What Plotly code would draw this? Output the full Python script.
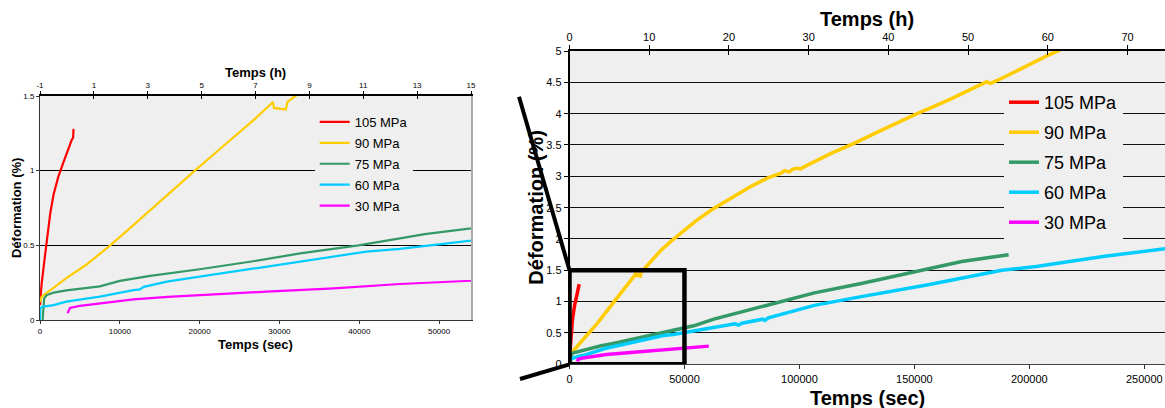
import plotly.graph_objects as go

W, H = 1165, 408

# ---------------- data (time in s, strain in %) ----------------
series_names = ["105 MPa", "90 MPa", "75 MPa", "60 MPa", "30 MPa"]
series_colors = ["#ff0000", "#ffcc00", "#339966", "#00ccff", "#ff00ff"]

t_105 = [0, 200, 600, 1000, 1300, 1700, 2300, 2900, 3500, 4000, 4150, 4200]
d_105 = [0.10, 0.24, 0.42, 0.58, 0.72, 0.84, 0.96, 1.05, 1.14, 1.21, 1.22, 1.28]

t_90 = [0, 200, 800, 2000, 3300, 5800, 8800, 11700, 14000, 16500, 19400, 22000,
        24500, 27000, 29200, 29300, 30800, 31000, 32000, 36000, 40000, 45000,
        50000, 55000, 62000, 70000, 79000, 86000, 92000, 93500, 95500, 97000,
        99000, 100500, 102000, 114000, 124000, 136000, 150000, 165000, 179000,
        181500, 183000, 184500, 186000, 195000, 208000, 216000]
d_90 = [0.12, 0.155, 0.18, 0.23, 0.28, 0.37, 0.50, 0.635, 0.745, 0.86, 1.00, 1.12,
        1.235, 1.35, 1.46, 1.42, 1.41, 1.46, 1.50, 1.67, 1.83, 1.99,
        2.14, 2.29, 2.47, 2.65, 2.84, 2.97, 3.05, 3.09, 3.07, 3.11,
        3.13, 3.12, 3.15, 3.37, 3.53, 3.74, 3.98, 4.22, 4.46,
        4.51, 4.48, 4.50, 4.53, 4.69, 4.93, 5.06]

t_75 = [330, 420, 520, 840, 1700, 3300, 7500, 10000, 13800, 20000, 26300, 32600,
        39900, 45100, 48200, 54000, 62800, 77400, 91900, 106500, 126900, 150000,
        170600, 191000]
d_75 = [0.0, 0.08, 0.145, 0.167, 0.183, 0.198, 0.225, 0.262, 0.295, 0.34, 0.39, 0.446,
        0.50, 0.547, 0.575, 0.614, 0.72, 0.856, 1.0, 1.14, 1.29, 1.48,
        1.64, 1.75]

t_60 = [0, 30, 400, 1700, 3300, 7500, 11700, 12500, 13000, 15900, 20000, 24200,
        28400, 32600, 36800, 40900, 45100, 49000, 54000, 60000, 72000, 73500,
        75000, 84000, 85000, 86500, 106500, 126900, 156000, 188000, 197000,
        203000, 232000, 260000]
d_60 = [0.0, 0.08, 0.09, 0.10, 0.123, 0.156, 0.20, 0.205, 0.222, 0.257, 0.29, 0.324,
        0.353, 0.39, 0.424, 0.458, 0.476, 0.50, 0.527, 0.565, 0.645, 0.625,
        0.655, 0.72, 0.70, 0.74, 0.94, 1.08, 1.27, 1.50, 1.54,
        1.56, 1.72, 1.85]

t_30 = [3450, 3550, 3750, 5000, 7500, 11700, 16000, 20000, 28400, 36800, 45100,
        54000, 60600]
d_30 = [0.045, 0.06, 0.08, 0.095, 0.11, 0.138, 0.155, 0.167, 0.19, 0.212, 0.241,
        0.263, 0.29]

times = [t_105, t_90, t_75, t_60, t_30]
strains = [d_105, d_90, d_75, d_60, d_30]

# axis ranges / ticks
left_sec_range = [0, 54000]
left_h_range = [-1, 15]
left_h_ticks = [-1, 1, 3, 5, 7, 9, 11, 13, 15]
left_sec_ticks = [0, 10000, 20000, 30000, 40000, 50000]
left_y_range = [0, 1.5]
left_y_ticks = [0, 0.5, 1, 1.5]

right_sec_range = [0, 259000]
right_h_range = [0, 74.7]
right_h_ticks = [0, 10, 20, 30, 40, 50, 60, 70]
right_sec_ticks = [0, 50000, 100000, 150000, 200000, 250000]
right_y_range = [0, 5]
right_y_ticks = [0, 0.5, 1, 1.5, 2, 2.5, 3, 3.5, 4, 4.5, 5]

title_time_h = "Temps (h)"
title_time_s = "Temps (sec)"
title_strain = "Déformation (%)"

zoom_box = dict(x0=0, x1=50000, y0=0, y1=1.5)


def labels(vals):
    return ["%g" % v for v in vals]


# ---------------- layout helpers ----------------
def px(x):
    return x / W


def py(y):
    return 1 - y / H


FONT = "Arial, Liberation Sans, sans-serif"
BG = "#efefef"

# pixel geometry of the two plot areas
L = dict(x0=40, x1=471, y0=96, y1=320)
R = dict(x0=569.5, x1=1165, y0=51, y1=364.3)

fig = go.Figure()

for name, col, t, d in zip(series_names, series_colors, times, strains):
    fig.add_trace(go.Scatter(x=t, y=d, mode="lines", name=name,
                             line=dict(color=col, width=2.2),
                             xaxis="x", yaxis="y", legend="legend",
                             legendgroup="L" + name, hoverinfo="skip"))
for name, col, t, d in zip(series_names, series_colors, times, strains):
    fig.add_trace(go.Scatter(x=t, y=d, mode="lines", name=name,
                             line=dict(color=col, width=3.5),
                             xaxis="x2", yaxis="y2", legend="legend2",
                             legendgroup="R" + name, hoverinfo="skip"))

tick_small = dict(family=FONT, size=8, color="#000")
tick_big = dict(family=FONT, size=11, color="#000")
title_small = dict(family=FONT, size=13, color="#000", weight="bold")
title_big = dict(family=FONT, size=20, color="#000", weight="bold")

fig.update_layout(
    width=W, height=H,
    margin=dict(l=0, r=0, t=0, b=0, autoexpand=False),
    paper_bgcolor="white",
    plot_bgcolor=BG,
    showlegend=True,
    # ---- left chart ----
    xaxis=dict(domain=[px(L["x0"]), px(L["x1"])], range=left_sec_range,
               tickvals=left_sec_ticks, ticktext=labels(left_sec_ticks), tickfont=tick_small,
               ticks="outside", ticklen=3, tickcolor="#333",
               showline=True, linecolor="#333", linewidth=1,
               showgrid=False, zeroline=False, anchor="y", automargin=False),
    yaxis=dict(domain=[py(L["y1"]), py(L["y0"])], range=left_y_range,
               tickvals=left_y_ticks, ticktext=labels(left_y_ticks), tickfont=tick_small,
               ticks="outside", ticklen=3, tickcolor="#333",
               showline=True, linecolor="#333", linewidth=1,
               showgrid=True, gridcolor="#000", gridwidth=1,
               zeroline=False, anchor="x", automargin=False),
    xaxis3=dict(overlaying="x", side="top", anchor="y", range=left_h_range,
                tickvals=left_h_ticks, ticktext=labels(left_h_ticks), tickfont=tick_small,
                ticks="outside", ticklen=3, tickcolor="#000",
                showline=True, linecolor="#000", linewidth=1.5,
                showgrid=False, zeroline=False, automargin=False),
    xaxis5=dict(overlaying="x", side="top", anchor="y", range=left_h_range,
                tickvals=left_h_ticks, showticklabels=False,
                ticks="inside", ticklen=3, tickcolor="#000", automargin=False,
                showline=False, showgrid=False, zeroline=False),
    yaxis3=dict(overlaying="y", side="right", anchor="x", range=left_y_range,
                showticklabels=False, ticks="", showgrid=False, zeroline=False,
                automargin=False,
                showline=True, linecolor="#aaaaaa", linewidth=2),
    # ---- right chart ----
    xaxis2=dict(domain=[px(R["x0"]), 1.0], range=right_sec_range,
                tickvals=right_sec_ticks, ticktext=labels(right_sec_ticks), tickfont=tick_big,
                ticks="outside", ticklen=4, tickcolor="#333",
                showline=True, linecolor="#444", linewidth=1.2,
                showgrid=False, zeroline=False, anchor="y2", automargin=False),
    yaxis2=dict(domain=[py(R["y1"]), py(R["y0"])], range=right_y_range,
                tickvals=right_y_ticks, ticktext=labels(right_y_ticks), tickfont=tick_big,
                ticks="outside", ticklen=4, tickcolor="#000",
                showline=True, linecolor="#000", linewidth=1.5,
                showgrid=True, gridcolor="#111", gridwidth=1.2,
                zeroline=False, anchor="x2", automargin=False),
    xaxis4=dict(overlaying="x2", side="top", anchor="y2", range=right_h_range,
                tickvals=right_h_ticks, ticktext=labels(right_h_ticks), tickfont=tick_big,
                ticks="outside", ticklen=4, tickcolor="#000",
                showline=True, linecolor="#000", linewidth=1.5,
                showgrid=False, zeroline=False, automargin=False),
    xaxis6=dict(overlaying="x2", side="top", anchor="y2", range=right_h_range,
                tickvals=right_h_ticks, showticklabels=False,
                ticks="inside", ticklen=4, tickcolor="#000", automargin=False,
                showline=False, showgrid=False, zeroline=False),
    legend=dict(x=px(314.7), y=py(107), xanchor="left", yanchor="top",
                bgcolor=BG, borderwidth=0, tracegroupgap=1,
                font=dict(family=FONT, size=13, color="#000")),
    legend2=dict(x=px(1004), y=py(84), xanchor="left", yanchor="top",
                 bgcolor=BG, borderwidth=0, tracegroupgap=3.6,
                 font=dict(family=FONT, size=18, color="#000")),
)

# dummy invisible traces to activate the extra axes
fig.add_trace(go.Scatter(x=[None], y=[None], xaxis="x3", yaxis="y", showlegend=False))
fig.add_trace(go.Scatter(x=[None], y=[None], xaxis="x5", yaxis="y", showlegend=False))
fig.add_trace(go.Scatter(x=[None], y=[None], xaxis="x", yaxis="y3", showlegend=False))
fig.add_trace(go.Scatter(x=[None], y=[None], xaxis="x4", yaxis="y2", showlegend=False))
fig.add_trace(go.Scatter(x=[None], y=[None], xaxis="x6", yaxis="y2", showlegend=False))

# axis titles (placed as paper annotations for exact positioning)
titles = [
    (title_time_h, (L["x0"] + L["x1"]) / 2, 72, 0, title_small),
    (title_time_s, (L["x0"] + L["x1"]) / 2, 344.5, 0, title_small),
    (title_strain, 16, (L["y0"] + L["y1"]) / 2, -90, title_small),
    (title_time_h, (R["x0"] + R["x1"]) / 2, 19, 0, title_big),
    (title_time_s, (R["x0"] + R["x1"]) / 2, 398, 0, title_big),
    (title_strain, 536, (R["y0"] + R["y1"]) / 2, -90, title_big),
]
for text, cx, cy, ang, f in titles:
    fig.add_annotation(text=text, xref="paper", yref="paper", x=px(cx), y=py(cy),
                       xanchor="center", yanchor="middle", textangle=ang,
                       showarrow=False, font=f)

# zoom box on the right chart, showing the extent of the left chart
fig.add_shape(type="rect", xref="x2", yref="y2", layer="above",
              x0=zoom_box["x0"], x1=zoom_box["x1"], y0=zoom_box["y0"], y1=zoom_box["y1"],
              line=dict(color="#000", width=4.5), fillcolor="rgba(0,0,0,0)")


# connector lines from the zoom box toward the left chart (paper coords)
def r_px_x(s):
    return R["x0"] + (s - right_sec_range[0]) / (right_sec_range[1] - right_sec_range[0]) * (R["x1"] - R["x0"])


def r_px_y(v):
    return R["y1"] - (v - right_y_range[0]) / (right_y_range[1] - right_y_range[0]) * (R["y1"] - R["y0"])


corner_top = (r_px_x(zoom_box["x0"]), r_px_y(zoom_box["y1"]))
corner_bot = (r_px_x(zoom_box["x0"]), r_px_y(zoom_box["y0"]))
fig.add_shape(type="line", xref="paper", yref="paper", layer="above",
              x0=px(519), y0=py(96.7), x1=px(corner_top[0]), y1=py(corner_top[1]),
              line=dict(color="#000", width=4))
fig.add_shape(type="line", xref="paper", yref="paper", layer="above",
              x0=px(520), y0=py(379), x1=px(corner_bot[0]), y1=py(corner_bot[1]),
              line=dict(color="#000", width=4))

fig.write_html("out.html",
               config={"displayModeBar": False},
               post_script="document.body.style.margin='0';document.body.style.overflow='hidden';")
